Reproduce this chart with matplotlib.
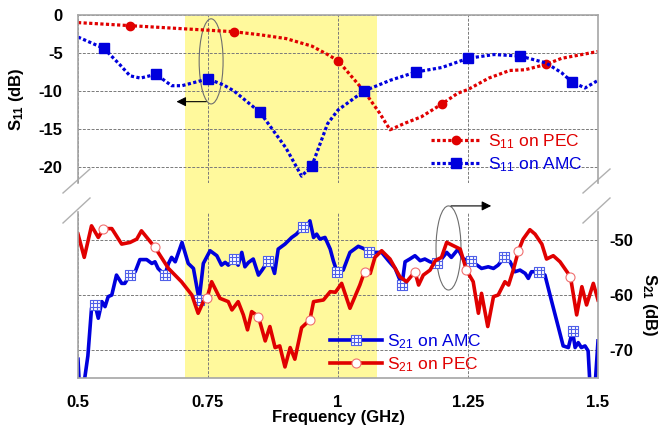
import numpy as np
import matplotlib.pyplot as plt
from matplotlib.patches import Ellipse
from matplotlib.path import Path

plt.rcParams['font.family'] = ['Liberation Sans', 'DejaVu Sans']
plt.rcParams['mathtext.fontset'] = 'custom'
plt.rcParams['mathtext.rm'] = 'Liberation Sans'
plt.rcParams['mathtext.default'] = 'regular'

# ---- data ----
f11_pec = [0.5, 0.6, 0.7, 0.8, 0.85, 0.9, 0.95, 0.98, 1.0, 1.05, 1.08, 1.1, 1.13, 1.16,
           1.2, 1.23, 1.25, 1.29, 1.33, 1.36, 1.4, 1.43, 1.5]
s11_pec = [-1.0, -1.4, -1.8, -2.2, -2.6, -3.1, -4.1, -5.2, -6.0, -10.0, -12.9, -15.1, -14.2, -13.4,
           -11.7, -10.3, -9.8, -8.3, -7.3, -7.2, -6.5, -5.7, -4.8]
mk11_pec = [0.6, 0.8, 1.0, 1.2, 1.4]

f11_amc = [0.5, 0.55, 0.58, 0.6, 0.62, 0.65, 0.68, 0.7, 0.75, 0.78, 0.8, 0.85, 0.9, 0.93, 0.95,
           0.98, 1.0, 1.05, 1.1, 1.15, 1.2, 1.25, 1.3, 1.35, 1.4, 1.43, 1.45, 1.475, 1.5]
s11_amc = [-2.9, -4.4, -6.5, -8.0, -8.3, -7.8, -9.3, -9.3, -8.4, -9.2, -10.0, -12.8, -17.5, -21.2, -19.8,
           -14.3, -12.5, -10.0, -8.6, -7.5, -6.9, -5.7, -5.2, -5.4, -6.3, -7.6, -8.8, -9.6, -8.6]
mk11_amc = [0.55, 0.65, 0.75, 0.85, 0.95, 1.05, 1.15, 1.25, 1.35, 1.45]

f21_amc = [0.5, 0.503, 0.51, 0.519, 0.526, 0.533, 0.539, 0.546, 0.552, 0.558, 0.565, 0.574, 0.584,
           0.59, 0.6, 0.61, 0.619, 0.632, 0.642, 0.648, 0.654, 0.667, 0.674, 0.68, 0.687, 0.7,
           0.712, 0.722, 0.733, 0.741, 0.754, 0.767, 0.776, 0.783, 0.789, 0.8, 0.808, 0.815,
           0.821, 0.828, 0.837, 0.847, 0.854, 0.866, 0.872, 0.878, 0.885, 0.898, 0.911, 0.92,
           0.932, 0.94, 0.946, 0.953, 0.959, 0.965, 0.975, 0.985, 0.991, 0.998, 1.01, 1.023,
           1.039, 1.049, 1.06, 1.071, 1.084, 1.097, 1.11, 1.123, 1.129, 1.138, 1.148, 1.158,
           1.167, 1.177, 1.19, 1.199, 1.209, 1.218, 1.231, 1.241, 1.255, 1.263, 1.276, 1.289,
           1.299, 1.308, 1.32, 1.331, 1.34, 1.35, 1.36, 1.366, 1.372, 1.387, 1.398, 1.411,
           1.424, 1.433, 1.443, 1.451, 1.456, 1.462, 1.468, 1.475, 1.481, 1.485, 1.494, 1.5]
s21_amc = [-71.6, -77, -77, -71.0, -62.4, -61.8, -64.2, -61.2, -62.1, -60.3, -60.0, -56.4, -57.9,
           -57.9, -56.4, -55.8, -53.6, -53.6, -54.3, -54.0, -55.2, -56.4, -54.3, -53.2, -54.0, -50.5,
           -54.3, -55.2, -60.9, -54.3, -52.0, -52.9, -54.6, -54.1, -54.6, -53.5, -54.6, -52.3,
           -54.9, -54.1, -53.5, -56.4, -55.5, -53.8, -54.3, -56.1, -51.7, -50.8, -49.6, -49.0,
           -47.8, -47.8, -46.6, -49.6, -49.0, -49.9, -49.6, -51.7, -53.8, -55.8, -55.5, -52.3,
           -51.2, -51.6, -52.2, -52.3, -52.3, -53.8, -55.2, -58.2, -54.0, -53.5, -52.9, -53.8,
           -53.5, -54.0, -54.3, -53.5, -52.3, -53.2, -51.7, -53.5, -53.8, -54.3, -55.2, -54.9,
           -55.2, -54.6, -53.2, -54.0, -55.8, -55.5, -56.1, -57.0, -55.8, -55.8, -56.4, -61.2,
           -65.9, -69.2, -69.5, -66.5, -69.5, -68.6, -69.5, -69.2, -70.1, -77, -77, -68.3]
mk21_amc = [0.533, 0.6, 0.667, 0.733, 0.8, 0.866, 0.932, 0.998, 1.06, 1.123, 1.19, 1.255,
            1.32, 1.387, 1.451]

f21_pec = [0.5, 0.512, 0.526, 0.539, 0.549, 0.565, 0.584, 0.6, 0.613, 0.622, 0.648, 0.674, 0.699,
           0.719, 0.731, 0.741, 0.748, 0.757, 0.773, 0.789, 0.796, 0.808, 0.818, 0.826, 0.834,
           0.847, 0.86, 0.869, 0.879, 0.888, 0.898, 0.908, 0.917, 0.93, 0.946, 0.953, 0.972,
           0.985, 0.995, 1.007, 1.023, 1.042, 1.051, 1.062, 1.071, 1.084, 1.1, 1.119, 1.132,
           1.148, 1.155, 1.164, 1.177, 1.187, 1.199, 1.209, 1.222, 1.235, 1.247, 1.26, 1.27,
           1.276, 1.288, 1.299, 1.308, 1.321, 1.328, 1.337, 1.347, 1.356, 1.369, 1.379, 1.392,
           1.401, 1.414, 1.427, 1.447, 1.459, 1.469, 1.478, 1.491, 1.5]
s21_pec = [-49.0, -53.2, -47.5, -49.6, -48.0, -48.0, -50.8, -50.5, -49.9, -48.4, -51.4, -55.2, -57.6,
           -60.0, -63.3, -61.2, -60.6, -57.6, -60.6, -61.2, -62.7, -61.2, -63.6, -66.3, -63.0,
           -63.9, -68.3, -65.7, -69.5, -69.2, -73.0, -69.5, -71.6, -65.9, -64.5, -61.2, -60.9,
           -59.4, -59.5, -57.9, -62.4, -58.2, -55.8, -56.1, -53.2, -52.0, -53.5, -56.7, -57.6,
           -55.8, -58.2, -56.4, -55.5, -53.8, -53.2, -50.5, -51.1, -51.7, -55.5, -57.6, -63.3,
           -59.7, -65.7, -60.3, -60.0, -57.6, -58.2, -55.5, -52.0, -49.9, -48.2, -49.0, -50.8,
           -53.5, -52.9, -54.0, -56.7, -63.6, -58.5, -61.8, -57.9, -60.9]
mk21_pec = [0.549, 0.648, 0.748, 0.847, 0.946, 1.051, 1.148, 1.247, 1.347, 1.447]

band = (0.706, 1.075)
xticks = [0.5, 0.75, 1.0, 1.25, 1.5]
xlabels = ['0.5', '0.75', '1', '1.25', '1.5']

BLUE = '#0000dd'
RED = '#e00000'
GRID = '#7a7a7a'
FRAME = '#a6a6a6'


def marks(freq, where):
    freq = np.asarray(freq)
    return [int(np.argmin(np.abs(freq - m))) for m in where]


# square with a 3x3 grid inside, like the S21 on AMC marker
gv = [(-1, -1), (1, -1), (1, 1), (-1, 1), (-1, -1)]
gc = [Path.MOVETO, Path.LINETO, Path.LINETO, Path.LINETO, Path.CLOSEPOLY]
for t in (-1 / 3, 1 / 3):
    gv += [(t, -1), (t, 1), (-1, t), (1, t)]
    gc += [Path.MOVETO, Path.LINETO, Path.MOVETO, Path.LINETO]
grid_sq = Path(gv, gc)

W, H = 661, 428
fig = plt.figure(figsize=(W / 100, H / 100), dpi=100)


def box(x0, y0, x1, y1):
    return [x0 / W, 1 - y1 / H, (x1 - x0) / W, (y1 - y0) / H]


bg = fig.add_axes(box(78, 15, 598, 378), zorder=0)
bg.set_xlim(0.5, 1.5)
bg.axvspan(*band, color='#fff99c', lw=0)
bg.axis('off')

ax1 = fig.add_axes(box(78, 15, 598, 183), zorder=1)
ax2 = fig.add_axes(box(78, 212, 598, 378), zorder=1)

for ax in (ax1, ax2):
    ax.set_facecolor('none')
    ax.set_xlim(0.5, 1.5)
    ax.set_xticks(xticks)
    ax.grid(True, color=GRID, lw=0.7, ls=(0, (3, 1.5)))
    ax.tick_params(length=0, labelsize=12)
    for s in ax.spines.values():
        s.set_color(FRAME)
        s.set_linewidth(1.2)

# ---- top: S11 ----
dot = (0, (1, 0.75))
ax1.plot(f11_pec, s11_pec, color=RED, lw=2.3, ls=dot, marker='o', ms=6,
         markevery=marks(f11_pec, mk11_pec), label='S$_{11}$ on PEC')
ax1.plot(f11_amc, s11_amc, color=BLUE, lw=2.3, ls=dot, marker='s', ms=6.5,
         markevery=marks(f11_amc, mk11_amc), label='S$_{11}$ on AMC')
ax1.set_ylim(-22.1, 0)
ax1.set_yticks([0, -5, -10, -15, -20])
ax1.set_yticklabels(['0', '-5', '-10', '-15', '-20'], fontweight='bold')
ax1.tick_params(axis='y', pad=11)
ax1.tick_params(axis='x', labelbottom=False)
ax1.spines['bottom'].set_visible(False)
ax1.set_ylabel('S$_{11}$ (dB)', fontsize=12, fontweight='bold')
ax1.yaxis.set_label_coords(-0.100, 0.5)
ax1.legend(loc='upper left', bbox_to_anchor=(431 / W, 1 - 132 / H), bbox_transform=fig.transFigure,
           frameon=False, fontsize=12.5, labelcolor='linecolor', handlelength=2.9,
           handletextpad=0.4, labelspacing=0.25, borderpad=0, borderaxespad=0)

ax1.add_patch(Ellipse((0.756, -6.1), 0.046, 11.2, fill=False, ec='#6e6e6e', lw=0.8))
ax1.annotate('', xy=(0.684, -11.4), xytext=(0.752, -11.4),
             arrowprops=dict(arrowstyle='-|>', color='black', lw=0.8, mutation_scale=14))

# ---- bottom: S21 ----
ax2.plot(f21_amc, s21_amc, color=BLUE, lw=2.6, marker=grid_sq, ms=7.5, mfc='white', mec='#5060e8',
         mew=0.8, markevery=marks(f21_amc, mk21_amc), label='S$_{21}$ on AMC')
ax2.plot(f21_pec, s21_pec, color=RED, lw=2.6, marker='o', ms=6.5, mfc='white', mec='#f07070',
         mew=0.8, markevery=marks(f21_pec, mk21_pec), label='S$_{21}$ on PEC')
ax2.set_ylim(-75, -45)
ax2.set_yticks([-50, -60, -70])
ax2.yaxis.tick_right()
ax2.set_yticklabels(['-50', '-60', '-70'], fontweight='bold')
ax2.tick_params(axis='y', pad=8)
ax2.tick_params(axis='x', pad=12)
ax2.set_xticklabels(xlabels, fontweight='bold')
ax2.spines['top'].set_visible(False)
ax2.set_xlabel('Frequency (GHz)', fontsize=12, fontweight='bold')
ax2.xaxis.set_label_coords(0.5, -0.195)
ax2.yaxis.set_label_position('right')
ax2.set_ylabel('S$_{21}$ (dB)', fontsize=12, fontweight='bold', rotation=270, va='center')
ax2.yaxis.set_label_coords(1.100, 0.44)
ax2.legend(loc='upper left', bbox_to_anchor=(330 / W, 1 - 332 / H), bbox_transform=fig.transFigure,
           frameon=False, fontsize=12.5, labelcolor='linecolor', handlelength=3.0,
           handletextpad=0.3, labelspacing=0.25, borderpad=0, borderaxespad=0)

ax2.add_patch(Ellipse((1.2125, -51.5), 0.048, 15.2, fill=False, ec='#6e6e6e', lw=0.8, clip_on=False))
ax2.annotate('', xy=(1.3, -43.9), xytext=(1.212, -43.9), annotation_clip=False,
             arrowprops=dict(arrowstyle='-|>', color='black', lw=0.8, mutation_scale=14))

# break marks on the split axes
kw = dict(color='#b0b0b0', lw=1.0, clip_on=False)
for x0 in (0.0, 1.0):
    ax1.plot([x0 - 15 / 520, x0 + 12 / 520], [-10 / 168, 14 / 168], transform=ax1.transAxes, **kw)
    ax2.plot([x0 - 15 / 520, x0 + 12 / 520], [1 - 11 / 166, 1 + 14 / 166], transform=ax2.transAxes, **kw)

fig.savefig('out.png', dpi=100)
